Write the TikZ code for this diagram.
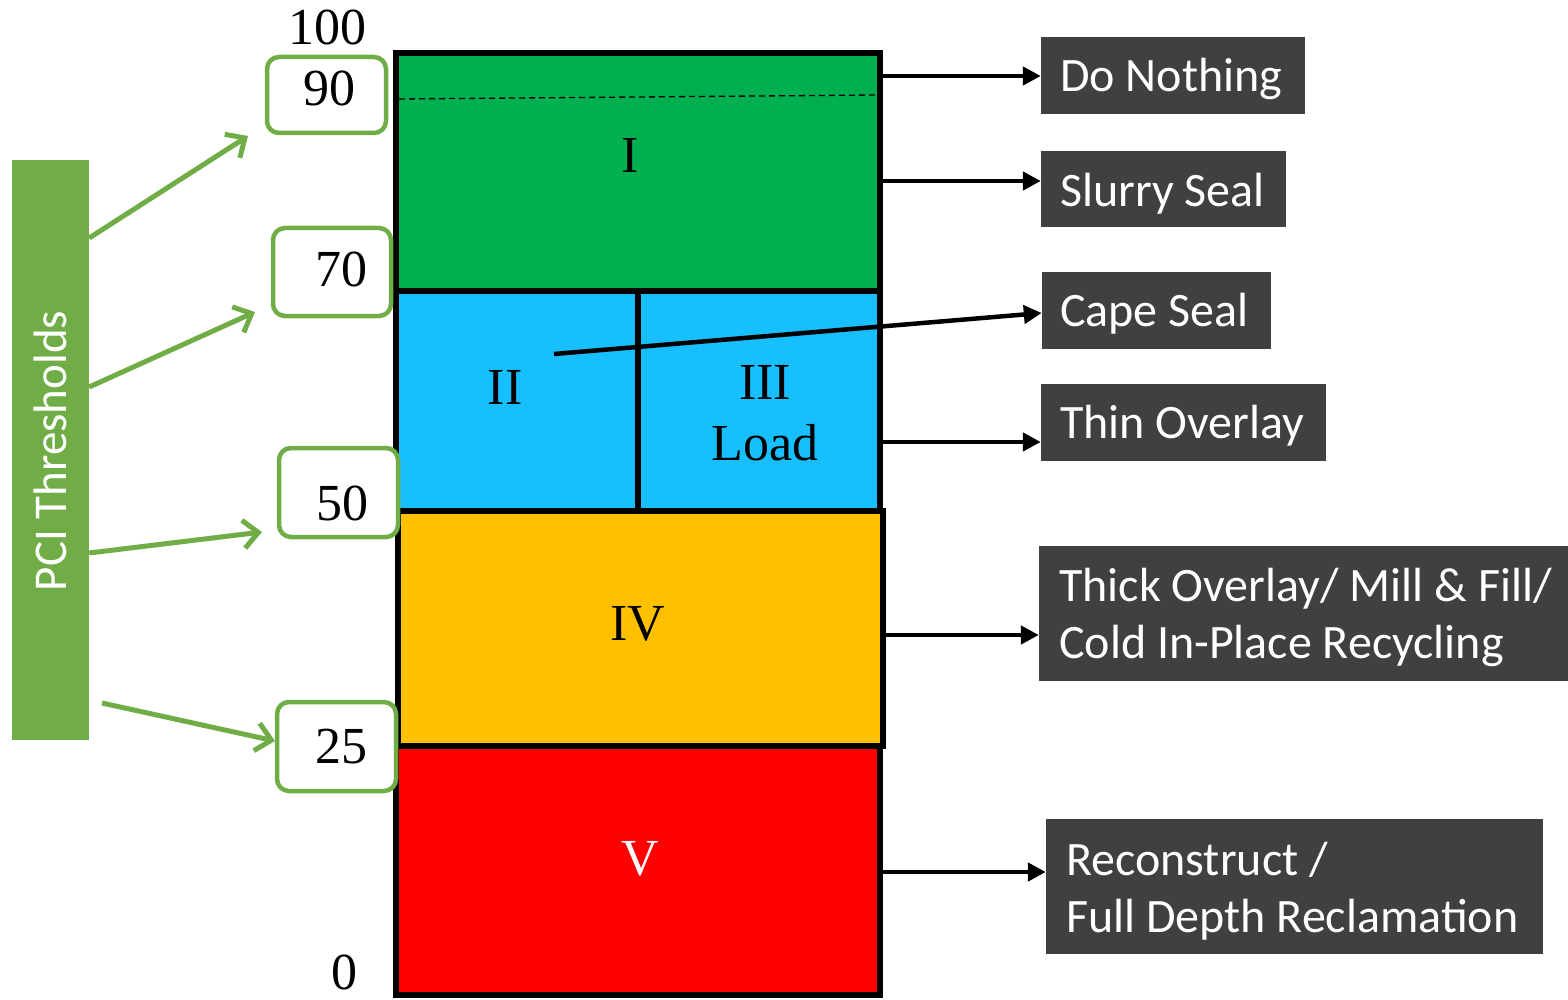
\documentclass[tikz,border=0pt]{standalone}
\usepackage{fontspec}
\setmainfont{Liberation Serif}
\newfontfamily\calib{Carlito}
\usetikzlibrary{arrows.meta}
\definecolor{pgreen}{HTML}{70AD47}
\definecolor{zgreen}{HTML}{00B050}
\definecolor{zblue}{HTML}{17BFFF}
\definecolor{zyellow}{HTML}{FFC000}
\definecolor{zred}{HTML}{FF0000}
\definecolor{dbox}{HTML}{404040}
\begin{document}
\begin{tikzpicture}[x=1pt,y=-1pt,
  zone/.style={draw=black, line width=6.5pt, inner sep=0pt, line join=miter},
  thr/.style={draw=pgreen, line width=4.5pt, rounded corners=12pt, fill=white, inner sep=0pt},
  num/.style={font=\fontsize{52}{60}\selectfont, inner sep=0pt, text depth=0pt},
  actbox/.style={fill=dbox, inner sep=0pt},
  acttext/.style={text=white, font=\calib\fontsize{48}{57}\selectfont, inner sep=0pt, anchor=base west},
  blk/.style={line width=4.5pt, -{Triangle[length=18pt,width=18pt]}},
  grn/.style={draw=pgreen, line width=5pt, -{Straight Barb[length=15pt,width=28pt,line width=5pt]}}
]
\useasboundingbox (0,0) rectangle (1568,1000);

% zones
\node[zone, fill=zgreen, minimum width=484pt, minimum height=238pt] (z1) at (638,172) {};
\node[zone, fill=zblue, minimum width=484pt, minimum height=220pt] (z2) at (638,401) {};
\node[zone, fill=zyellow, minimum width=485pt, minimum height=235pt] (z4) at (640.5,628.5) {};
\node[zone, fill=zred, minimum width=484pt, minimum height=249pt] (z5) at (638,870.5) {};
\draw[line width=6.5pt] (z2.north -| 638,0) -- (z2.south -| 638,0);
\draw[line width=1.3pt, dash pattern=on 6pt off 4pt] (399,99) -- (877,95);

% zone labels
\node[num] (lI) at (630,155) {I};
\node[num] (lII) at (505,387) {II};
\node[num] (lIII) at (765,382) {III};
\node[num] (lLoad) at (765,442) {Load};
\node[num] (lIV) at (638,623) {IV};
\node[num, text=white] (lV) at (640,858) {V};

% scale numbers
\node[num] (n100) at (327,27) {100};
\node[num] (n0) at (344,972) {0};

% threshold boxes
\node[thr, minimum width=119pt, minimum height=76pt] (t90) at (326.5,95) {};
\node[thr, minimum width=118pt, minimum height=88pt] (t70) at (332,272) {};
\node[thr, minimum width=119pt, minimum height=89pt] (t50) at (338.5,492.5) {};
\node[thr, minimum width=119pt, minimum height=89pt] (t25) at (336.5,746.5) {};
\node[num] (x90) at (329,88) {90};
\node[num] (x70) at (341,269) {70};
\node[num] (x50) at (342,503) {50};
\node[num] (x25) at (341,746) {25};

% PCI bar
\node[fill=pgreen, minimum width=77pt, minimum height=580pt, inner sep=0pt] (pci) at (50.5,450) {};
\node[rotate=90, text=white, font=\calib\fontsize{47}{52}\selectfont, inner sep=0pt] (pcit) at (50,451) {PCI Thresholds};

\coordinate (g1) at (248,136);
\coordinate (g2) at (255,312);
\coordinate (g3) at (262,532);
\coordinate (g4) at (275,741);
\coordinate (g4s) at (102,703);
\draw[grn] (pci.east |- 0,238) -- (g1);
\draw[grn] (pci.east |- 0,387) -- (g2);
\draw[grn] (pci.east |- 0,553) -- (g3);
\draw[grn] (g4s) -- (g4);

% action boxes
\node[actbox, minimum width=264pt, minimum height=77pt] (dn) at (1173,75.5) {};
\node[actbox, minimum width=245pt, minimum height=76pt] (ss) at (1163.5,189) {};
\node[actbox, minimum width=229pt, minimum height=77pt] (cs) at (1156.5,310.5) {};
\node[actbox, minimum width=285pt, minimum height=77pt] (to) at (1183.5,422.5) {};
\node[actbox, minimum width=529pt, minimum height=135pt] (th) at (1303.5,613.5) {};
\node[actbox, minimum width=497pt, minimum height=135pt] (rc) at (1294.5,886.5) {};
\node[acttext] (dnt) at (1060,92) {Do Nothing};
\node[acttext] (sst) at (1060,207) {Slurry Seal};
\node[acttext] (cst) at (1060,326) {Cape Seal};
\node[acttext] (tot) at (1060,438) {Thin Overlay};
\node[acttext] (tht1) at (1059,601) {Thick Overlay/ Mill \& Fill/};
\node[acttext] (tht2) at (1059,658) {Cold In-Place Recycling};
\node[acttext] (rct1) at (1066,875) {Reconstruct /};
\node[acttext] (rct2) at (1066,932) {Full Depth Reclamation};

% connectors
\draw[blk] (z1.east |- 0,76) -- (dn.west |- 0,76);
\draw[blk] (z1.east |- 0,181) -- (ss.west |- 0,181);
\coordinate (csfrom) at (554,354);
\draw[blk] (csfrom) -- (cs.west |- 0,313);
\draw[blk] (z2.east |- 0,442) -- (to.west |- 0,442);
\draw[blk] (z4.east |- 0,635) -- (th.west |- 0,635);
\draw[blk] (z5.east |- 0,872) -- (rc.west |- 0,872);
\end{tikzpicture}
\end{document}
